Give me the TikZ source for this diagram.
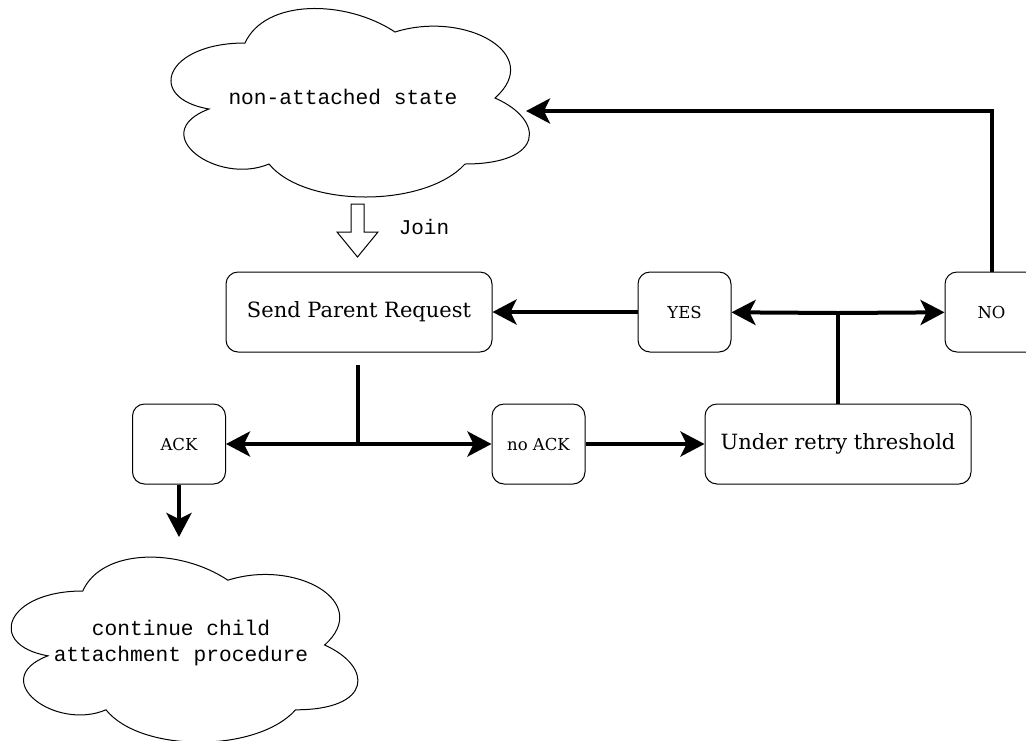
\documentclass[tikz,border=0pt]{standalone}
\usepackage{fontspec}
\setmainfont{DejaVu Serif}
\setmonofont{Liberation Mono}
\usepackage{tikz}
\usetikzlibrary{arrows.meta}
\newcommand\drawcloud[4]{
  \begin{scope}[shift={(#1,#2)},xscale=#3,yscale=#4]
    \draw[line width=1pt,fill=white]
      (0.25,0.25) .. controls (0.05,0.25) and (0,0.5) .. (0.16,0.55)
      .. controls (0,0.66) and (0.18,0.9) .. (0.31,0.8)
      .. controls (0.4,1) and (0.7,1) .. (0.8,0.8)
      .. controls (1,0.8) and (1,0.6) .. (0.875,0.5)
      .. controls (1,0.3) and (0.8,0.1) .. (0.625,0.2)
      .. controls (0.5,0.05) and (0.3,0.05) .. (0.25,0.25) -- cycle;
  \end{scope}
}
\tikzset{
  box/.style={draw,line width=1pt,rounded corners=12pt,minimum height=80pt,inner sep=0pt},
  bigbox/.style={box,minimum width=266pt,font=\fontsize{21}{24}\selectfont},
  smallbox/.style={box,minimum width=93pt,font=\fontsize{16.5}{20}\selectfont},
  cloudtext/.style={font=\ttfamily\fontsize{21.2}{26}\selectfont,align=center},
  flow/.style={line width=4pt,-{Stealth[length=24pt,width=25pt,inset=6pt]}},
  stem/.style={line width=4pt}
}

\begin{document}
\begin{tikzpicture}[x=1pt,y=-1pt]
  \useasboundingbox (0,0) rectangle (1026,740);
  \clip (0,0) rectangle (1026,740);

  \drawcloud{145}{-12}{400}{220}
  \drawcloud{-14}{537}{387}{216}
  \node[cloudtext] (nonattached) at (343,97) {non-attached state};
  \node[cloudtext] (continue) at (181,643) {continue child\\attachment procedure};

  % Join arrow
  \draw[line width=1pt,fill=white] (351,204) -- (364,204) -- (364,232) -- (378,232)
    -- (357.5,257) -- (337,232) -- (351,232) -- cycle;
  \node[font=\ttfamily\fontsize{21}{24}\selectfont] (join) at (424,227) {Join};

  \node[bigbox] (spr) at (359,312) {Send Parent Request};
  \node[smallbox] (yes) at (684.5,312) {YES};
  \node[smallbox] (no) at (991.5,312) {NO};
  \node[smallbox] (ack) at (179,444) {ACK};
  \node[smallbox] (noack) at (538.5,444) {no ACK};
  \node[bigbox] (urt) at (838,444) {Under retry threshold};

  \coordinate (sprstem) at (358,365);
  \coordinate (ackjoin) at (358,444);
  \coordinate (urtjoin) at (838,313);
  \coordinate (nocorner) at (991.5,111);
  \coordinate (cloudin) at (526,111);
  \coordinate (ackdown) at (179,537);

  \draw[stem] (sprstem) -- (ackjoin);
  \draw[flow] (ackjoin) -- (ack);
  \draw[flow] (ackjoin) -- (noack);
  \draw[flow] (noack) -- (urt);
  \draw[stem] (urt) -- (urtjoin);
  \draw[flow] (urtjoin) -- (yes);
  \draw[flow] (urtjoin) -- (no);
  \draw[flow] (yes) -- (spr);
  \draw[flow,line join=miter] (no) -- (nocorner) -- (cloudin);
  \draw[flow] (ack) -- (ackdown);
\end{tikzpicture}
\end{document}
